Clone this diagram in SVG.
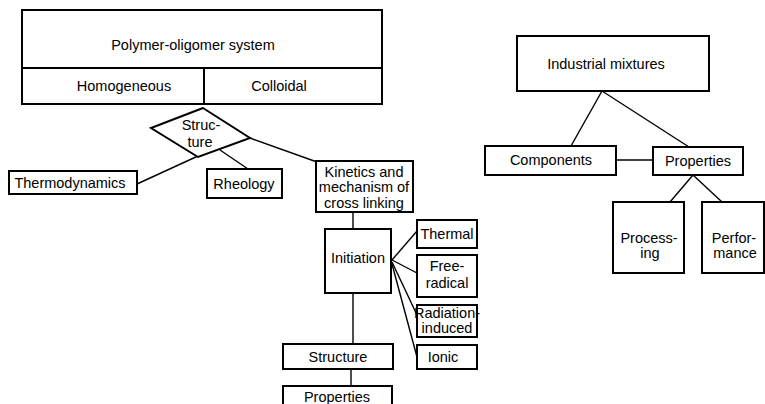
<svg xmlns="http://www.w3.org/2000/svg" width="765" height="404" viewBox="0 0 765 404">
<style>
.b{fill:#fff;stroke:#000;stroke-width:2}
.c{fill:none;stroke:#000;stroke-width:1.4}
text{font-family:"Liberation Sans",Arial,sans-serif;font-size:14.5px;fill:#000;text-anchor:middle}
</style>
<rect width="765" height="404" fill="#fff"/>
<g id="connectors">
<line class="c" x1="198" y1="156" x2="137" y2="184"/>
<line class="c" x1="220" y1="150" x2="248" y2="169"/>
<line class="c" x1="250" y1="138" x2="317" y2="162"/>
<line class="c" x1="353" y1="212" x2="353" y2="229"/>
<line class="c" x1="353" y1="293" x2="353" y2="344"/>
<line class="c" x1="351" y1="369" x2="351" y2="386"/>
<line class="c" x1="392" y1="260" x2="417" y2="231"/>
<line class="c" x1="392" y1="260" x2="417" y2="273"/>
<line class="c" x1="392" y1="262" x2="417" y2="315"/>
<line class="c" x1="392" y1="264" x2="417" y2="357"/>
<line class="c" x1="602" y1="91" x2="571" y2="146"/>
<line class="c" x1="602" y1="91" x2="689" y2="147"/>
<line class="c" x1="616" y1="160" x2="653" y2="160"/>
<line class="c" x1="693" y1="175" x2="670" y2="202"/>
<line class="c" x1="693" y1="175" x2="722" y2="202"/>
</g>
<g id="polymer-oligomer-system">
<rect class="b" x="22" y="10" width="360" height="94"/>
<line class="b" x1="22" y1="68" x2="382" y2="68"/>
<line class="b" x1="204" y1="68" x2="204" y2="104"/>
<text x="193" y="50" font-size="16">Polymer-oligomer system</text>
</g>
<g id="homogeneous"><text x="124" y="91">Homogeneous</text></g>
<g id="colloidal"><text x="279" y="91">Colloidal</text></g>
<g id="structure-diamond">
<polygon class="b" points="203,108 151,128 198,157 250,138"/>
<text x="201" y="130">Struc-</text>
<text x="200" y="147">ture</text>
</g>
<g id="thermodynamics">
<rect class="b" x="9" y="171" width="128" height="23"/>
<text x="70" y="188" font-size="15">Thermodynamics</text>
</g>
<g id="rheology">
<rect class="b" x="207" y="169" width="75" height="29"/>
<text x="244" y="189">Rheology</text>
</g>
<g id="kinetics">
<rect class="b" x="316" y="161" width="97" height="51"/>
<text x="364" y="177">Kinetics and</text>
<text x="364" y="192">mechanism of</text>
<text x="364" y="208">cross linking</text>
</g>
<g id="initiation">
<rect class="b" x="325" y="229" width="66" height="64"/>
<text x="358" y="263">Initiation</text>
</g>
<g id="thermal">
<rect class="b" x="417" y="220" width="60" height="28"/>
<text x="447" y="239">Thermal</text>
</g>
<g id="free-radical">
<rect class="b" x="417" y="255" width="60" height="42"/>
<text x="447" y="271">Free-</text>
<text x="447" y="288">radical</text>
</g>
<g id="radiation-induced">
<rect class="b" x="417" y="305" width="60" height="32"/>
<text x="447" y="318" font-size="12.5">Radiation-</text>
<text x="447" y="333" font-size="12.5">induced</text>
</g>
<g id="ionic">
<rect class="b" x="417" y="345" width="60" height="24"/>
<text x="443" y="362">Ionic</text>
</g>
<g id="structure">
<rect class="b" x="283" y="344" width="110" height="25"/>
<text x="338" y="362" font-size="15">Structure</text>
</g>
<g id="properties-left">
<rect class="b" x="283" y="386" width="109" height="30"/>
<text x="337" y="402" font-size="15">Properties</text>
</g>
<g id="industrial-mixtures">
<rect class="b" x="517" y="36" width="192" height="55"/>
<text x="606" y="69" font-size="15.5">Industrial mixtures</text>
</g>
<g id="components">
<rect class="b" x="485" y="146" width="131" height="29"/>
<text x="551" y="165" font-size="15">Components</text>
</g>
<g id="properties-right">
<rect class="b" x="653" y="147" width="90" height="28"/>
<text x="698" y="166" font-size="15">Properties</text>
</g>
<g id="processing">
<rect class="b" x="613" y="202" width="71" height="71"/>
<text x="649" y="243" font-size="15">Process-</text>
<text x="650" y="258" font-size="15">ing</text>
</g>
<g id="performance">
<rect class="b" x="702" y="202" width="62" height="71"/>
<text x="734" y="243">Perfor-</text>
<text x="735" y="258">mance</text>
</g>
</svg>
